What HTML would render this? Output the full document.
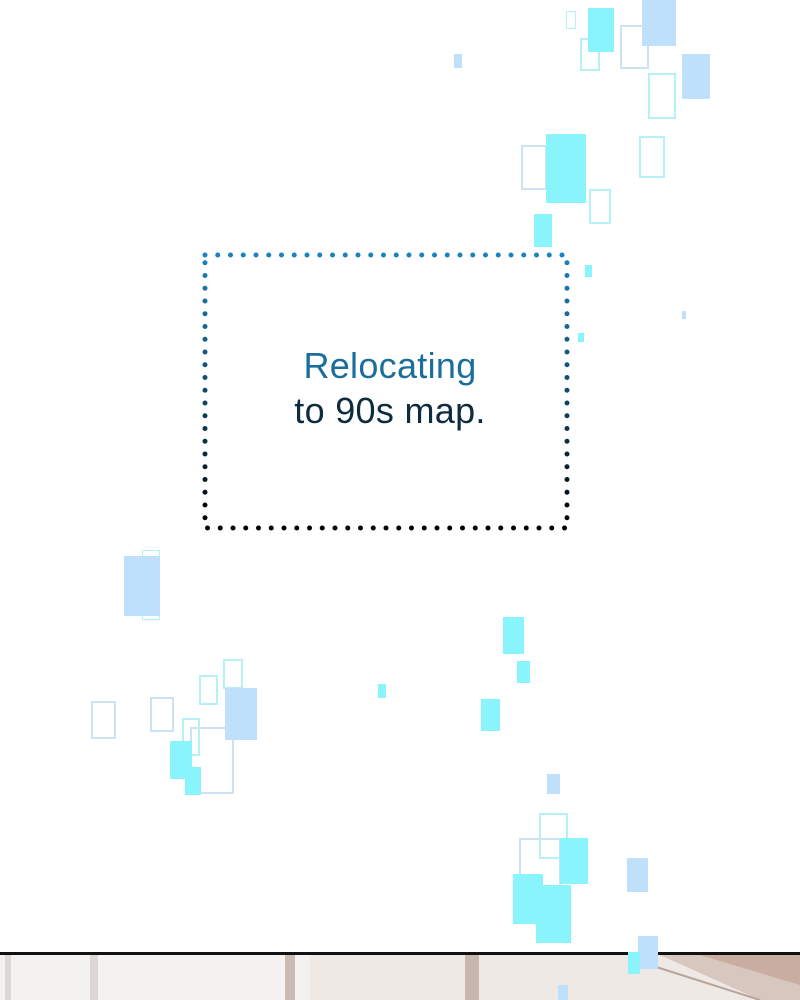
<!DOCTYPE html>
<html><head><meta charset="utf-8"><style>
html,body{margin:0;padding:0;}
body{width:800px;height:1000px;position:relative;background:#fff;overflow:hidden;font-family:"Liberation Sans",sans-serif;}
.r{position:absolute;box-sizing:border-box;}
.c{background:#8af4fc;}
.b{background:#bfe0fa;}
.oc{border:2px solid #b6f1f7;}
.ob{border:2px solid #cde2f4;}
.t{position:absolute;left:0;width:780px;text-align:center;font-size:36px;letter-spacing:0.3px;}
</style></head><body>
<!-- bottom scene -->
<div class="r" style="left:0;top:955px;width:800px;height:45px;background:#f4f2f1;"></div>
<div class="r" style="left:310px;top:955px;width:490px;height:45px;background:#efe9e6;"></div>
<div class="r" style="left:285px;top:955px;width:10px;height:45px;background:#c9bab4;"></div>
<div class="r" style="left:465px;top:955px;width:14px;height:45px;background:#c7b6ae;"></div>
<div class="r" style="left:5px;top:955px;width:6px;height:45px;background:#ddd8d6;"></div>
<div class="r" style="left:90px;top:955px;width:8px;height:45px;background:#ddd8d6;"></div>
<svg class="r" style="left:640px;top:955px" width="160" height="45"><polygon points="20,0 160,0 160,45 120,45" fill="#d8c7be"/><polygon points="60,0 160,0 160,30" fill="#c9ada0"/><line x1="10" y1="10" x2="120" y2="45" stroke="#b8a59c" stroke-width="2"/></svg>
<div class="r" style="left:0;top:952px;width:800px;height:3px;background:#111;"></div>
<!-- squares top right -->
<div class="r oc" style="left:566px;top:11px;width:10px;height:18px;border-width:1px"></div>
<div class="r oc" style="left:580px;top:38px;width:20px;height:33px"></div>
<div class="r c" style="left:588px;top:8px;width:26px;height:44px"></div>
<div class="r ob" style="left:620px;top:25px;width:29px;height:44px"></div>
<div class="r b" style="left:642px;top:0;width:34px;height:46px"></div>
<div class="r oc" style="left:648px;top:73px;width:28px;height:46px"></div>
<div class="r b" style="left:682px;top:54px;width:28px;height:45px"></div>
<div class="r oc" style="left:639px;top:136px;width:26px;height:42px"></div>
<div class="r ob" style="left:521px;top:145px;width:26px;height:45px"></div>
<div class="r c" style="left:546px;top:134px;width:40px;height:69px"></div>
<div class="r oc" style="left:589px;top:189px;width:22px;height:35px"></div>
<div class="r c" style="left:534px;top:214px;width:18px;height:33px"></div>
<div class="r b" style="left:454px;top:54px;width:8px;height:14px"></div>
<div class="r c" style="left:585px;top:265px;width:7px;height:12px"></div>
<div class="r c" style="left:578px;top:333px;width:6px;height:9px"></div>
<div class="r b" style="left:682px;top:311px;width:4px;height:8px"></div>
<!-- left -->
<div class="r oc" style="left:142px;top:550px;width:18px;height:70px;border-width:1px"></div>
<div class="r b" style="left:124px;top:556px;width:36px;height:60px"></div>
<div class="r ob" style="left:91px;top:701px;width:25px;height:38px"></div>
<div class="r ob" style="left:150px;top:697px;width:24px;height:35px"></div>
<div class="r oc" style="left:199px;top:675px;width:19px;height:30px"></div>
<div class="r oc" style="left:223px;top:659px;width:20px;height:30px"></div>
<div class="r ob" style="left:190px;top:727px;width:44px;height:67px"></div>
<div class="r oc" style="left:182px;top:718px;width:18px;height:38px"></div>
<div class="r b" style="left:225px;top:688px;width:32px;height:52px"></div>
<div class="r c" style="left:170px;top:741px;width:22px;height:38px"></div>
<div class="r c" style="left:185px;top:767px;width:16px;height:28px"></div>
<!-- middle -->
<div class="r c" style="left:503px;top:617px;width:21px;height:37px"></div>
<div class="r c" style="left:517px;top:661px;width:13px;height:22px"></div>
<div class="r c" style="left:481px;top:699px;width:19px;height:32px"></div>
<div class="r c" style="left:378px;top:684px;width:8px;height:14px"></div>
<!-- bottom right -->
<div class="r b" style="left:547px;top:774px;width:13px;height:20px"></div>
<div class="r ob" style="left:519px;top:838px;width:42px;height:63px"></div>
<div class="r oc" style="left:539px;top:813px;width:29px;height:46px"></div>
<div class="r c" style="left:560px;top:838px;width:28px;height:46px"></div>
<div class="r c" style="left:513px;top:874px;width:30px;height:50px"></div>
<div class="r c" style="left:536px;top:885px;width:35px;height:58px"></div>
<div class="r b" style="left:627px;top:858px;width:21px;height:34px"></div>
<div class="r b" style="left:638px;top:936px;width:20px;height:33px"></div>
<div class="r c" style="left:628px;top:952px;width:12px;height:22px"></div>
<div class="r b" style="left:558px;top:985px;width:10px;height:15px"></div>
<!-- dotted box -->
<svg class="r" style="left:0;top:0" width="800" height="1000">
<defs><linearGradient id="g" gradientUnits="userSpaceOnUse" x1="0" y1="255" x2="0" y2="528"><stop offset="0" stop-color="#1a82c0"/><stop offset="0.5" stop-color="#0f4a6a"/><stop offset="1" stop-color="#000"/></linearGradient></defs>
<rect x="205" y="255" width="362" height="273" fill="none" stroke="url(#g)" stroke-width="5" stroke-linecap="round" stroke-dasharray="0 12.75"/>
</svg>
<div class="t" style="top:345px;color:#1b6e9c;">Relocating</div>
<div class="t" style="top:390px;color:#0e2c3e;">to 90s map.</div>
</body></html>
